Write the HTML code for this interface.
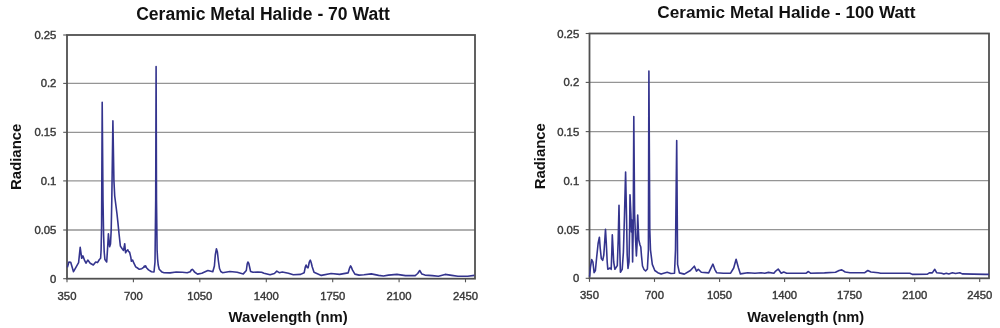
<!DOCTYPE html>
<html><head><meta charset="utf-8"><title>Ceramic Metal Halide spectra</title>
<style>
html,body{margin:0;padding:0;background:#fff;width:1000px;height:328px;overflow:hidden}
svg{display:block;filter:blur(0.35px)}
text{font-family:"Liberation Sans",Arial,sans-serif}
.g{stroke:#959595;stroke-width:1.3}
.t{stroke:#555;stroke-width:1.1}
.b{fill:none;stroke:#505050;stroke-width:1.8}
.tl{font-size:11.3px;fill:#383838;stroke:#383838;stroke-width:0.4}
.ti{font-size:17.2px;font-weight:bold;fill:#111}
.al{font-size:14.9px;font-weight:bold;fill:#111}
.c{fill:none;stroke:#34348e;stroke-width:1.6;stroke-linejoin:round}
</style></head><body>
<svg width="1000" height="328" viewBox="0 0 1000 328">
<rect width="1000" height="328" fill="#fff"/>
<line x1="67.0" y1="83.4" x2="475.0" y2="83.4" class="g"/>
<line x1="67.0" y1="132.3" x2="475.0" y2="132.3" class="g"/>
<line x1="67.0" y1="180.9" x2="475.0" y2="180.9" class="g"/>
<line x1="67.0" y1="230.0" x2="475.0" y2="230.0" class="g"/>
<line x1="63.2" y1="35.0" x2="67.0" y2="35.0" class="t"/>
<text x="56.4" y="39.0" class="tl" text-anchor="end">0.25</text>
<line x1="63.2" y1="83.4" x2="67.0" y2="83.4" class="t"/>
<text x="56.4" y="87.4" class="tl" text-anchor="end">0.2</text>
<line x1="63.2" y1="132.3" x2="67.0" y2="132.3" class="t"/>
<text x="56.4" y="136.3" class="tl" text-anchor="end">0.15</text>
<line x1="63.2" y1="180.9" x2="67.0" y2="180.9" class="t"/>
<text x="56.4" y="184.9" class="tl" text-anchor="end">0.1</text>
<line x1="63.2" y1="230.0" x2="67.0" y2="230.0" class="t"/>
<text x="56.4" y="234.0" class="tl" text-anchor="end">0.05</text>
<line x1="63.2" y1="278.7" x2="67.0" y2="278.7" class="t"/>
<text x="56.4" y="282.7" class="tl" text-anchor="end">0</text>
<line x1="67.0" y1="278.7" x2="67.0" y2="282.3" class="t"/>
<text x="67.0" y="299.7" class="tl" text-anchor="middle">350</text>
<line x1="133.4" y1="278.7" x2="133.4" y2="282.3" class="t"/>
<text x="133.4" y="299.7" class="tl" text-anchor="middle">700</text>
<line x1="199.8" y1="278.7" x2="199.8" y2="282.3" class="t"/>
<text x="199.8" y="299.7" class="tl" text-anchor="middle">1050</text>
<line x1="266.3" y1="278.7" x2="266.3" y2="282.3" class="t"/>
<text x="266.3" y="299.7" class="tl" text-anchor="middle">1400</text>
<line x1="332.7" y1="278.7" x2="332.7" y2="282.3" class="t"/>
<text x="332.7" y="299.7" class="tl" text-anchor="middle">1750</text>
<line x1="399.1" y1="278.7" x2="399.1" y2="282.3" class="t"/>
<text x="399.1" y="299.7" class="tl" text-anchor="middle">2100</text>
<line x1="465.5" y1="278.7" x2="465.5" y2="282.3" class="t"/>
<text x="465.5" y="299.7" class="tl" text-anchor="middle">2450</text>
<rect x="67.0" y="35.0" width="408.0" height="243.7" class="b"/>
<text x="136.2" y="20.2" class="ti" style="font-size:17.55px">Ceramic Metal Halide - 70 Watt</text>
<text x="228.4" y="322.0" class="al" style="font-size:14.90px">Wavelength (nm)</text>
<text transform="translate(20.9,156.8) rotate(-90)" class="al" text-anchor="middle">Radiance</text>
<polyline class="c" points="67.4,267.4 68.9,262.0 70.7,262.3 73.5,271.7 76.2,266.8 78.6,262.6 80.2,247.3 81.7,258.3 82.9,255.9 84.7,260.7 86.0,263.2 87.8,260.1 90.2,263.2 93.3,265.0 95.7,262.0 97.5,262.6 99.4,259.5 100.6,258.3 101.1,250.0 101.6,225.0 102.2,102.3 103.0,200.0 103.6,235.0 104.2,252.0 104.9,259.5 106.7,262.0 107.6,248.0 108.4,233.9 109.6,246.7 110.5,244.0 111.2,230.0 111.8,200.0 112.9,120.9 113.9,180.0 114.7,196.0 117.0,214.0 117.9,222.3 119.0,233.5 120.2,244.3 120.4,246.1 122.0,248.5 123.5,250.4 124.2,247.0 124.7,243.7 125.3,250.0 125.6,252.8 126.5,251.0 127.8,249.8 128.5,251.5 129.6,252.2 130.8,257.1 131.4,261.3 132.6,260.1 133.9,263.2 135.7,266.8 137.5,268.0 139.3,269.3 141.8,268.7 143.6,267.4 144.3,266.0 145.0,267.0 145.6,265.8 146.7,268.0 148.5,269.9 151.5,271.7 154.0,272.0 155.0,262.0 155.7,200.0 156.1,66.6 156.5,200.0 157.1,250.0 157.6,259.0 158.2,265.0 159.2,269.3 162.0,272.1 164.0,272.7 170.1,272.9 176.2,272.0 182.3,272.3 187.2,272.7 190.2,271.7 191.3,270.0 192.3,269.3 193.3,270.3 194.5,272.0 197.5,274.1 201.8,273.2 207.9,270.5 212.8,271.7 214.4,266.0 215.3,255.0 216.4,248.8 217.4,252.0 218.4,261.0 219.5,268.5 220.8,271.5 222.5,272.7 229.9,271.5 237.2,272.3 243.3,273.9 246.3,270.5 247.2,264.0 247.9,262.0 248.8,263.5 249.6,267.0 250.6,271.5 253.0,272.3 257.9,272.0 261.6,272.3 264.0,273.3 270.1,274.8 274.4,273.5 276.8,271.1 279.2,272.7 282.3,272.0 288.4,273.2 293.3,274.8 300.6,274.4 304.2,272.7 305.3,267.0 306.1,265.0 307.3,267.8 308.1,267.8 309.3,262.0 310.3,260.1 311.3,263.0 312.2,266.8 314.0,272.3 321.3,275.4 331.1,273.5 339.6,274.4 348.1,272.9 349.6,268.0 350.6,265.9 351.5,267.5 352.4,269.9 354.9,274.1 359.1,275.1 364.0,274.8 371.3,273.9 378.6,275.4 383.5,276.0 388.4,275.1 396.9,274.4 405.5,275.6 415.2,275.6 417.7,273.5 419.7,270.5 421.9,274.1 425.0,275.1 432.3,275.6 438.4,276.3 445.1,274.4 451.8,275.4 457.9,276.3 467.7,276.3 474.4,275.4"/>
<line x1="589.5" y1="82.4" x2="989.0" y2="82.4" class="g"/>
<line x1="589.5" y1="131.6" x2="989.0" y2="131.6" class="g"/>
<line x1="589.5" y1="180.7" x2="989.0" y2="180.7" class="g"/>
<line x1="589.5" y1="229.7" x2="989.0" y2="229.7" class="g"/>
<line x1="585.7" y1="33.5" x2="589.5" y2="33.5" class="t"/>
<text x="579.2" y="37.5" class="tl" text-anchor="end">0.25</text>
<line x1="585.7" y1="82.4" x2="589.5" y2="82.4" class="t"/>
<text x="579.2" y="86.4" class="tl" text-anchor="end">0.2</text>
<line x1="585.7" y1="131.6" x2="589.5" y2="131.6" class="t"/>
<text x="579.2" y="135.6" class="tl" text-anchor="end">0.15</text>
<line x1="585.7" y1="180.7" x2="589.5" y2="180.7" class="t"/>
<text x="579.2" y="184.7" class="tl" text-anchor="end">0.1</text>
<line x1="585.7" y1="229.7" x2="589.5" y2="229.7" class="t"/>
<text x="579.2" y="233.7" class="tl" text-anchor="end">0.05</text>
<line x1="585.7" y1="278.3" x2="589.5" y2="278.3" class="t"/>
<text x="579.2" y="282.3" class="tl" text-anchor="end">0</text>
<line x1="589.5" y1="278.3" x2="589.5" y2="281.9" class="t"/>
<text x="589.5" y="299.3" class="tl" text-anchor="middle">350</text>
<line x1="654.5" y1="278.3" x2="654.5" y2="281.9" class="t"/>
<text x="654.5" y="299.3" class="tl" text-anchor="middle">700</text>
<line x1="719.6" y1="278.3" x2="719.6" y2="281.9" class="t"/>
<text x="719.6" y="299.3" class="tl" text-anchor="middle">1050</text>
<line x1="784.6" y1="278.3" x2="784.6" y2="281.9" class="t"/>
<text x="784.6" y="299.3" class="tl" text-anchor="middle">1400</text>
<line x1="849.6" y1="278.3" x2="849.6" y2="281.9" class="t"/>
<text x="849.6" y="299.3" class="tl" text-anchor="middle">1750</text>
<line x1="914.7" y1="278.3" x2="914.7" y2="281.9" class="t"/>
<text x="914.7" y="299.3" class="tl" text-anchor="middle">2100</text>
<line x1="979.7" y1="278.3" x2="979.7" y2="281.9" class="t"/>
<text x="979.7" y="299.3" class="tl" text-anchor="middle">2450</text>
<rect x="589.5" y="33.5" width="399.5" height="244.8" class="b"/>
<text x="657.3" y="18.4" class="ti" style="font-size:17.20px">Ceramic Metal Halide - 100 Watt</text>
<text x="747.2" y="321.9" class="al" style="font-size:14.60px">Wavelength (nm)</text>
<text transform="translate(544.6,156.2) rotate(-90)" class="al" text-anchor="middle">Radiance</text>
<polyline class="c" points="589.6,276.6 590.5,266.8 591.7,259.5 592.9,262.0 594.1,272.7 595.4,270.5 596.6,258.0 598.1,243.5 599.4,237.2 600.2,248.0 601.3,258.5 602.7,260.4 603.8,255.0 604.6,243.3 605.5,229.3 606.3,243.3 607.2,262.0 607.8,269.3 610.0,268.0 611.2,269.3 611.8,252.2 612.3,234.8 613.1,250.0 613.7,262.0 614.9,269.3 617.3,265.6 618.2,240.0 619.0,205.3 619.8,250.0 620.4,272.3 622.2,269.3 623.4,252.2 624.5,215.0 625.6,172.0 626.5,215.0 627.2,255.0 628.0,268.5 629.0,262.0 629.6,230.0 630.0,194.8 630.9,214.0 631.4,232.0 632.0,220.0 632.6,262.0 633.2,230.0 633.8,116.6 634.6,214.0 635.6,240.0 636.4,256.0 637.0,245.0 637.7,215.1 638.8,240.0 640.0,245.0 640.8,247.0 641.5,256.0 642.5,266.0 644.0,269.5 645.6,271.0 647.4,269.0 648.4,250.0 648.9,71.1 649.8,230.0 650.5,250.0 652.3,264.4 654.8,270.5 657.8,272.7 661.1,274.1 667.2,272.3 670.9,273.5 674.5,273.2 675.5,249.8 676.7,140.5 677.6,264.4 679.4,272.9 684.3,274.1 690.4,270.5 694.3,266.2 696.5,271.1 698.3,269.3 701.3,272.3 708.7,272.9 711.3,267.4 712.9,264.1 714.8,269.3 716.6,272.7 723.3,273.2 730.6,273.2 733.7,268.0 736.1,259.3 738.5,268.0 740.4,273.9 747.7,272.7 755.0,273.2 761.1,272.7 764.8,273.2 768.4,272.4 773.9,273.2 775.7,271.1 778.2,269.0 781.2,273.2 783.7,272.0 786.7,273.2 806.2,273.2 808.4,271.5 810.5,273.2 824.5,272.9 835.5,272.3 839.1,270.5 841.8,269.9 845.2,272.0 850.1,272.7 864.8,272.7 867.8,270.5 870.9,272.0 878.2,272.7 880.6,273.2 909.9,273.2 912.3,274.4 927.4,274.1 929.3,272.9 932.3,272.9 934.8,269.3 936.6,272.7 941.5,273.2 943.9,274.1 946.3,273.2 948.8,273.9 952.4,272.7 955.5,273.5 959.8,272.7 962.2,273.9 973.2,274.1 985.4,274.4 989.0,274.4"/>
</svg>
</body></html>
